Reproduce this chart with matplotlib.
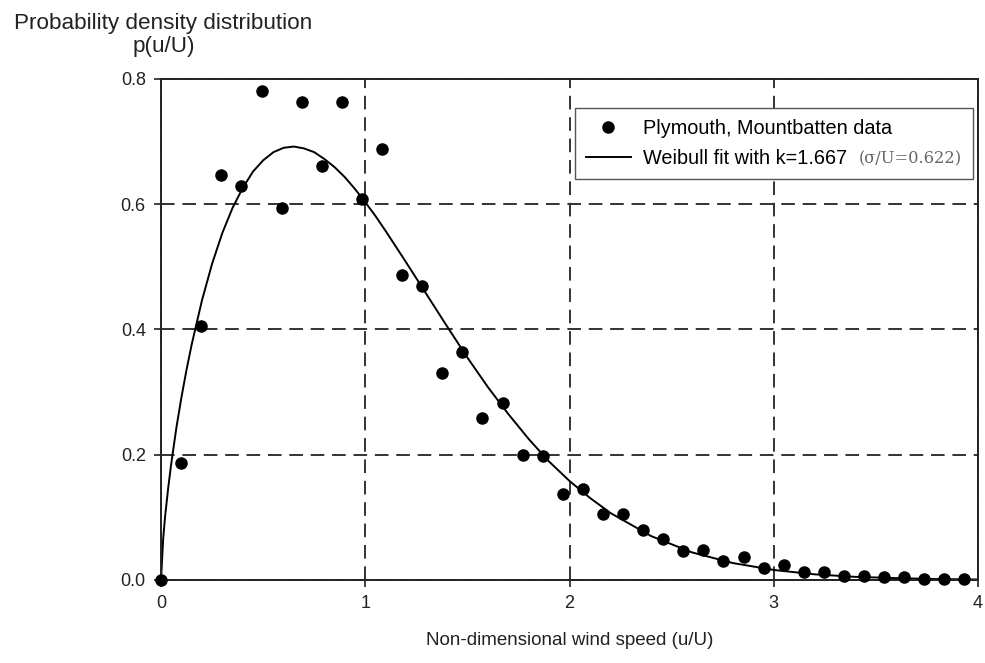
import matplotlib.pyplot as plt
from matplotlib.offsetbox import TextArea

plt.rcParams['font.family'] = ['Liberation Sans', 'DejaVu Sans']

# measured data (non-dimensional speed, density)
data_x = [0.0, 0.098, 0.197, 0.295, 0.393, 0.492, 0.590, 0.688, 0.787, 0.885,
          0.983, 1.082, 1.180, 1.278, 1.377, 1.475, 1.573, 1.672, 1.770, 1.868,
          1.967, 2.065, 2.163, 2.262, 2.360, 2.458, 2.557, 2.655, 2.753, 2.852,
          2.950, 3.048, 3.147, 3.245, 3.343, 3.442, 3.540, 3.638, 3.737, 3.835,
          3.933]
data_y = [0.0, 0.187, 0.405, 0.647, 0.629, 0.781, 0.594, 0.763, 0.661, 0.763,
          0.608, 0.688, 0.487, 0.470, 0.331, 0.364, 0.259, 0.283, 0.200, 0.198,
          0.137, 0.145, 0.105, 0.105, 0.080, 0.066, 0.047, 0.048, 0.030, 0.037,
          0.019, 0.024, 0.013, 0.013, 0.007, 0.007, 0.004, 0.004, 0.002, 0.002,
          0.002]

# Weibull fit curve
fit_x = [0.0, 0.01, 0.02, 0.035, 0.05, 0.075, 0.1, 0.125, 0.15, 0.2, 0.25, 0.3,
         0.35, 0.4, 0.45, 0.5, 0.55, 0.6, 0.65, 0.7, 0.75, 0.8, 0.85, 0.9, 0.95,
         1.0, 1.05, 1.1, 1.2, 1.3, 1.4, 1.5, 1.6, 1.7, 1.8, 1.9, 2.0, 2.1, 2.2,
         2.4, 2.6, 2.8, 3.0, 3.2, 3.4, 3.6, 3.8, 4.0]
fit_y = [0.0, 0.064, 0.102, 0.147, 0.186, 0.243, 0.292, 0.336, 0.376, 0.446,
         0.505, 0.554, 0.594, 0.626, 0.652, 0.670, 0.683, 0.690, 0.692, 0.689,
         0.683, 0.672, 0.659, 0.643, 0.624, 0.603, 0.581, 0.557, 0.507, 0.456,
         0.405, 0.355, 0.308, 0.265, 0.225, 0.189, 0.158, 0.131, 0.107, 0.070,
         0.044, 0.027, 0.016, 0.009, 0.005, 0.003, 0.0015, 0.0008]

fig = plt.figure(figsize=(9.85, 6.63), dpi=100)
ax = fig.add_axes([0.1635, 0.1252, 0.8295, 0.7558])

ax.plot(fit_x, fit_y, color='black', linewidth=1.4, label='Weibull fit with k=1.667')
ax.plot(data_x, data_y, 'o', color='black', markersize=8, linestyle='none',
        label='Plymouth, Mountbatten data', clip_on=False, zorder=5)

ax.set_xlim(0, 4)
ax.set_ylim(0, 0.8)
ax.set_xticks([0, 1, 2, 3, 4])
ax.set_xticklabels(['0', '1', '2', '3', '4'])
ax.set_yticks([0.0, 0.2, 0.4, 0.6, 0.8])
ax.set_yticklabels(['0.0', '0.2', '0.4', '0.6', '0.8'])
ax.tick_params(labelsize=13, colors='#222222', length=5, width=1.2, pad=6)
for s in ax.spines.values():
    s.set_linewidth(1.4)
    s.set_color('#222222')

ax.grid(True, linestyle=(0, (7, 4)), color='#333333', linewidth=1.4)
ax.set_axisbelow(True)

ax.set_xlabel('Non-dimensional wind speed (u/U)', fontsize=13.5, color='#222222', labelpad=14)
fig.text(0.166, 0.964, 'Probability density distribution', ha='center', va='center',
         fontsize=16.2, color='#222222')
fig.text(0.166, 0.930, 'p(u/U)', ha='center', va='center', fontsize=16.2, color='#222222')

handles, labels = ax.get_legend_handles_labels()
leg = ax.legend(handles[::-1], labels[::-1], loc='upper right', bbox_to_anchor=(0.994, 0.942),
                borderaxespad=0, fontsize=14.3, frameon=True, fancybox=False, framealpha=1,
                handlelength=2.3, handletextpad=0.6, borderpad=0.55, labelspacing=0.55)
leg.get_frame().set_edgecolor('#555555')
leg.get_frame().set_linewidth(1.0)

# grey serif tail of the fit label, packed into the legend row
for col in leg._legend_handle_box.get_children():
    for item in col.get_children():
        kids = item.get_children()
        if isinstance(kids[-1], TextArea) and kids[-1].get_text().startswith('Weibull'):
            extra = TextArea('(σ/U=0.622)',
                             textprops=dict(family='DejaVu Serif', fontsize=11.7,
                                            color='#666666'))
            extra.set_figure(fig)
            kids.append(extra)

fig.savefig('out.png', dpi=100)
